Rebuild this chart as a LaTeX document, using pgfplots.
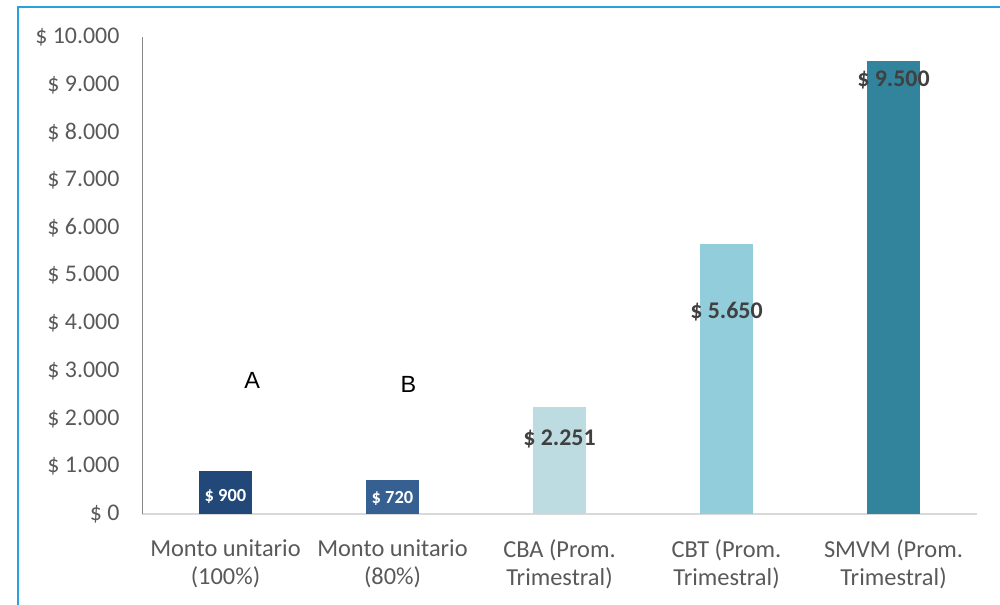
\documentclass[border=0pt]{standalone}
\usepackage{pgfplots}
\pgfplotsset{compat=1.18}
\usepackage{fontspec}
\setmainfont{Carlito}
\newfontfamily\arialf{Liberation Sans}
\definecolor{frameblue}{RGB}{41,161,219}
\definecolor{tickgrey}{RGB}{89,89,89}
\definecolor{lblgrey}{RGB}{64,64,64}
\definecolor{cA}{RGB}{33,72,120}
\definecolor{cB}{RGB}{54,96,146}
\definecolor{cC}{RGB}{189,220,226}
\definecolor{cD}{RGB}{146,205,220}
\definecolor{cE}{RGB}{49,132,155}
\begin{document}
\begin{tikzpicture}
\useasboundingbox (0,0) rectangle (1000bp,605bp);
\draw[frameblue, line width=2bp] (18bp,0) -- (18bp,598bp) -- (1001bp,598bp);
\begin{axis}[
  at={(142bp,91bp)}, anchor=south west,
  scale only axis, width=835bp, height=477bp,
  xmin=-0.5, xmax=4.5, ymin=0, ymax=10000,
  scaled y ticks=false,
  axis x line*=bottom, axis y line*=left,
  x axis line style={draw={rgb,255:red,217;green,217;blue,217}, line width=1.5bp, -},
  y axis line style={draw={rgb,255:red,134;green,134;blue,134}, line width=1bp, -},
  xtick={0,1,2,3,4},
  xticklabels={{Monto unitario\\(100\%)},{Monto unitario\\(80\%)},{CBA (Prom.\\Trimestral)},{CBT (Prom.\\Trimestral)},{SMVM (Prom.\\Trimestral)}},
  xticklabel style={align=center, font=\fontsize{24.5}{28}\selectfont, text=tickgrey, yshift=-22bp},
  ytick={0,1000,...,10000},
  yticklabels={\$ 0,\$ 1.000,\$ 2.000,\$ 3.000,\$ 4.000,\$ 5.000,\$ 6.000,\$ 7.000,\$ 8.000,\$ 9.000,\$ 10.000},
  yticklabel style={font=\fontsize{24}{28}\selectfont, text=tickgrey, xshift=-19bp},
  major tick length=0pt,
  ybar, bar width=53bp, bar shift=0pt,
  clip=false,
]
\addplot[draw=none, fill=cA] coordinates {(0,900)};
\addplot[draw=none, fill=cB] coordinates {(1,720)};
\addplot[draw=none, fill=cC] coordinates {(2,2251)};
\addplot[draw=none, fill=cD] coordinates {(3,5650)};
\addplot[draw=none, fill=cE] coordinates {(4,9500)};
\node[text=white, font=\fontsize{18.5}{20}\selectfont\bfseries] at (axis cs:0,370) {\$ 900};
\node[text=white, font=\fontsize{18.5}{20}\selectfont\bfseries] at (axis cs:1,330) {\$ 720};
\node[text=lblgrey, font=\fontsize{24}{26}\selectfont\bfseries] at (axis cs:2,1572) {\$ 2.251};
\node[text=lblgrey, font=\fontsize{24}{26}\selectfont\bfseries] at (axis cs:3,4235) {\$ 5.650};
\node[text=lblgrey, font=\fontsize{24}{26}\selectfont\bfseries] at (axis cs:4,9099) {\$ 9.500};
\node[text=black, font=\arialf\fontsize{23.5}{26}\selectfont] at (axis cs:0.16,2809) {A};
\node[text=black, font=\arialf\fontsize{23.5}{26}\selectfont] at (axis cs:1.095,2725) {B};
\end{axis}
\end{tikzpicture}
\end{document}
